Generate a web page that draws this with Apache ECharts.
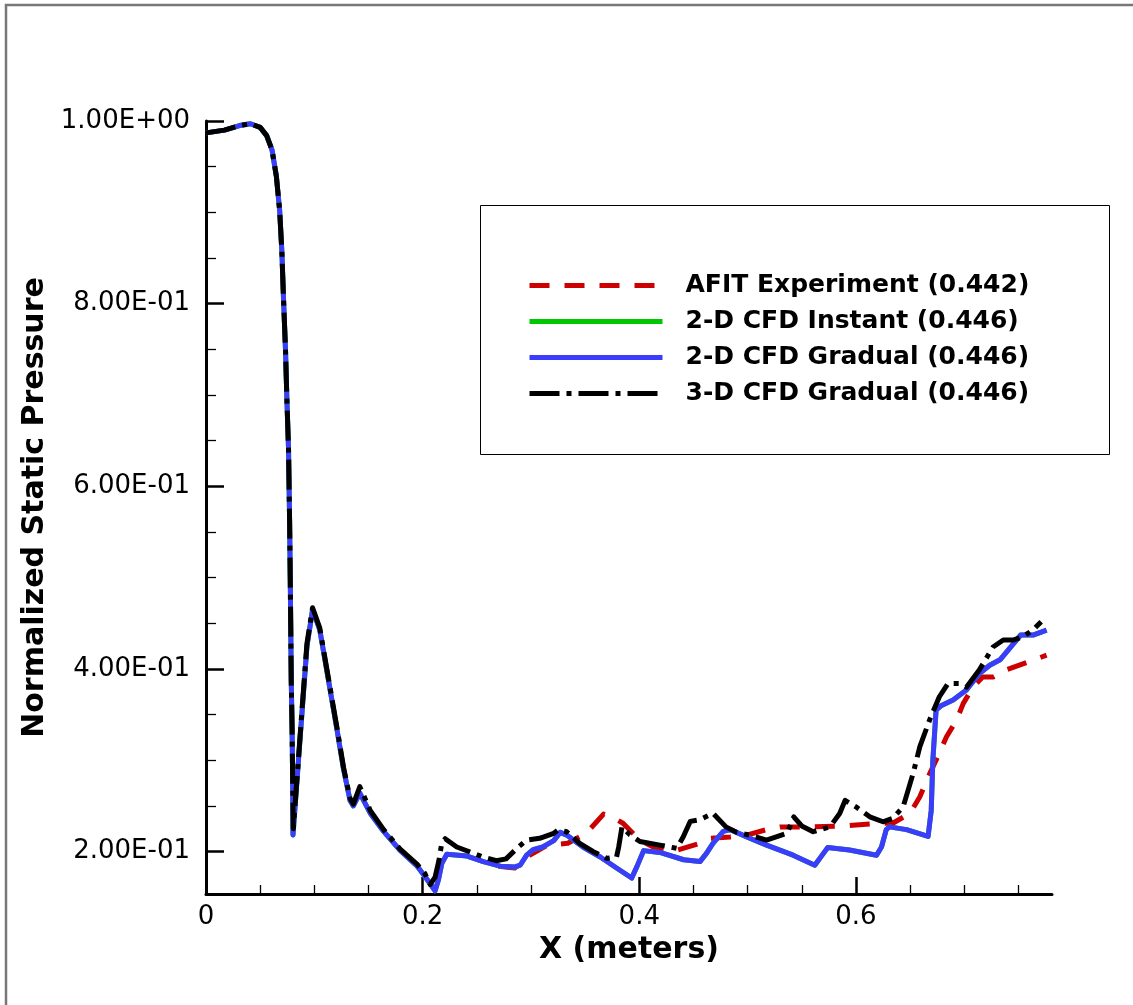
<!DOCTYPE html>
<html>
<head>
<meta charset="utf-8">
<script src="https://cdn.jsdelivr.net/npm/echarts@6/dist/echarts.min.js"></script>
<style>
html,body{margin:0;padding:0;background:#fff;}
#chart{width:1133px;height:1005px;}
</style>
</head>
<body>
<div id="chart"></div>
<script>
// ---- data ----
const seriesNames = ['AFIT Experiment (0.442)', '2-D CFD Instant (0.446)', '2-D CFD Gradual (0.446)', '3-D CFD Gradual (0.446)'];

const afitExperiment = [
  [0.270,0.184],[0.285,0.182],[0.299,0.196],[0.315,0.207],[0.334,0.209],[0.351,0.220],[0.367,0.241],
  [0.376,0.237],[0.385,0.231],[0.400,0.213],[0.416,0.203],[0.431,0.200],[0.445,0.205],[0.456,0.209],
  [0.465,0.2145],[0.484,0.216],[0.499,0.218],[0.5175,0.224],[0.530,0.227],[0.5575,0.227],[0.588,0.228],
  [0.600,0.229],[0.622,0.231],[0.634,0.231],[0.650,0.242],[0.659,0.260],[0.668,0.285],[0.674,0.300],
  [0.6836,0.3257],[0.693,0.344],[0.699,0.362],[0.708,0.380],[0.717,0.391],[0.7266,0.391],[0.739,0.399],
  [0.760,0.408],[0.776,0.415]
];

const cfd2dInstant = [
  [0,0.987],[0.017,0.990],[0.031,0.995],[0.041,0.997],[0.050,0.993],[0.056,0.984],[0.061,0.968],
  [0.065,0.939],[0.068,0.902],[0.070,0.858],[0.0716,0.804],[0.0734,0.749],[0.0747,0.694],[0.0762,0.640],
  [0.0772,0.560],[0.0778,0.497],[0.0782,0.450],[0.0787,0.387],[0.0795,0.333],[0.0800,0.278],[0.0803,0.218],
  [0.084,0.278],[0.0886,0.352],[0.0932,0.425],[0.0984,0.465],[0.105,0.443],[0.113,0.388],[0.121,0.333],
  [0.127,0.290],[0.133,0.256],[0.136,0.250],[0.142,0.264],[0.1516,0.242],[0.164,0.222],[0.179,0.2016],
  [0.195,0.184],[0.202,0.173],[0.2115,0.157],[0.2146,0.169],[0.2177,0.187],[0.2223,0.197],[0.224,0.199],
  [0.241,0.195],[0.256,0.189],[0.2715,0.184],[0.285,0.183],[0.290,0.185],[0.296,0.196],[0.302,0.202],
  [0.311,0.205],[0.321,0.212],[0.327,0.221],[0.333,0.218],[0.348,0.205],[0.364,0.194],[0.379,0.182],
  [0.393,0.171],[0.398,0.184],[0.404,0.201],[0.419,0.199],[0.441,0.191],[0.456,0.189],[0.462,0.198],
  [0.468,0.209],[0.4775,0.222],[0.484,0.224],[0.502,0.2145],[0.5175,0.207],[0.542,0.196],[0.562,0.185],
  [0.570,0.198],[0.574,0.2045],[0.594,0.2016],[0.619,0.196],[0.6236,0.205],[0.628,0.224],[0.631,0.227],
  [0.6467,0.224],[0.6666,0.2165],[0.6695,0.245],[0.671,0.300],[0.674,0.355],[0.679,0.360],[0.6897,0.366],
  [0.702,0.377],[0.714,0.395],[0.7235,0.404],[0.733,0.410],[0.743,0.424],[0.752,0.437],[0.7635,0.437],
  [0.776,0.4425]
];

const cfd2dGradual = [
  [0,0.987],[0.017,0.990],[0.031,0.995],[0.041,0.997],[0.050,0.993],[0.056,0.984],[0.061,0.968],
  [0.065,0.939],[0.068,0.902],[0.070,0.858],[0.0716,0.804],[0.0734,0.749],[0.0747,0.694],[0.0762,0.640],
  [0.0772,0.560],[0.0778,0.497],[0.0782,0.450],[0.0787,0.387],[0.0795,0.333],[0.0800,0.278],[0.0803,0.218],
  [0.084,0.278],[0.0886,0.352],[0.0932,0.425],[0.0984,0.465],[0.105,0.443],[0.113,0.388],[0.121,0.333],
  [0.127,0.290],[0.133,0.256],[0.136,0.250],[0.142,0.264],[0.1516,0.242],[0.164,0.222],[0.179,0.2016],
  [0.195,0.184],[0.202,0.173],[0.2115,0.157],[0.2146,0.169],[0.2177,0.187],[0.2223,0.197],[0.224,0.199],
  [0.241,0.195],[0.256,0.189],[0.2715,0.184],[0.285,0.183],[0.290,0.185],[0.296,0.196],[0.302,0.202],
  [0.311,0.205],[0.321,0.212],[0.327,0.221],[0.333,0.218],[0.348,0.205],[0.364,0.194],[0.379,0.182],
  [0.393,0.171],[0.398,0.184],[0.404,0.201],[0.419,0.199],[0.441,0.191],[0.456,0.189],[0.462,0.198],
  [0.468,0.209],[0.4775,0.222],[0.484,0.224],[0.502,0.2145],[0.5175,0.207],[0.542,0.196],[0.562,0.185],
  [0.570,0.198],[0.574,0.2045],[0.594,0.2016],[0.619,0.196],[0.6236,0.205],[0.628,0.224],[0.631,0.227],
  [0.6467,0.224],[0.6666,0.2165],[0.6695,0.245],[0.671,0.300],[0.674,0.355],[0.679,0.360],[0.6897,0.366],
  [0.702,0.377],[0.714,0.395],[0.7235,0.404],[0.733,0.410],[0.743,0.424],[0.752,0.437],[0.7635,0.437],
  [0.776,0.4425]
];

const cfd3dGradual = [
  [0,0.987],[0.017,0.990],[0.031,0.995],[0.041,0.997],[0.050,0.993],[0.056,0.984],[0.061,0.968],
  [0.065,0.939],[0.068,0.902],[0.070,0.858],[0.0716,0.804],[0.0734,0.749],[0.0747,0.694],[0.0762,0.640],
  [0.0772,0.560],[0.0778,0.497],[0.0782,0.450],[0.0787,0.387],[0.0795,0.333],[0.0800,0.278],[0.0806,0.225],
  [0.084,0.280],[0.0886,0.355],[0.0932,0.428],[0.0984,0.467],[0.105,0.445],[0.113,0.390],[0.121,0.335],
  [0.127,0.292],[0.133,0.258],[0.136,0.252],[0.142,0.271],[0.1516,0.245],[0.164,0.224],[0.179,0.203],
  [0.195,0.186],[0.202,0.176],[0.207,0.164],[0.2115,0.172],[0.215,0.190],[0.2176,0.209],[0.2208,0.214],
  [0.2315,0.205],[0.256,0.194],[0.268,0.190],[0.277,0.192],[0.287,0.2035],[0.296,0.2126],[0.308,0.2145],
  [0.321,0.220],[0.325,0.2235],[0.333,0.2216],[0.345,0.209],[0.3576,0.1998],[0.370,0.1926],[0.379,0.194],
  [0.381,0.205],[0.384,0.227],[0.3914,0.2183],[0.4006,0.211],[0.419,0.207],[0.4345,0.2035],[0.4406,0.2161],
  [0.447,0.233],[0.456,0.235],[0.468,0.2418],[0.480,0.227],[0.490,0.221],[0.502,0.218],[0.5175,0.2126],
  [0.5365,0.220],[0.5426,0.238],[0.550,0.228],[0.5605,0.2217],[0.576,0.227],[0.585,0.2416],[0.590,0.256],
  [0.600,0.249],[0.6128,0.238],[0.625,0.2326],[0.634,0.2363],[0.6436,0.249],[0.6528,0.2856],[0.659,0.3148],
  [0.668,0.344],[0.677,0.3695],[0.685,0.384],[0.696,0.384],[0.702,0.380],[0.714,0.399],[0.7266,0.424],
  [0.736,0.4316],[0.745,0.4316],[0.754,0.4353],[0.7635,0.4426],[0.771,0.4517]
];

const xMajorTicks = [0, 0.2, 0.4, 0.6];
const xTickLabels = ['0', '0.2', '0.4', '0.6'];
const xMinorTicks = [0.05,0.1,0.15,0.25,0.3,0.35,0.45,0.5,0.55,0.65,0.7,0.75];
const yMajorTicks = [0.2, 0.4, 0.6, 0.8, 1.0];
const yTickLabels = ['2.00E-01', '4.00E-01', '6.00E-01', '8.00E-01', '1.00E+00'];
const yMinorTicks = [0.25,0.3,0.35,0.45,0.5,0.55,0.65,0.7,0.75,0.85,0.9,0.95];

// ---- chart ----
const FONT = '"DejaVu Sans", Verdana, sans-serif';
const X_MIN = 0, X_MAX = 0.781, Y_MIN = 0.1535, Y_MAX = 1.0;
function lookup(vals, labels, v){
  for (let i = 0; i < vals.length; i++) if (Math.abs(vals[i] - v) < 1e-6) return labels[i];
  return '';
}
const colors = ['#cc0000', '#00c800', '#3c3cff', '#000000'];
const dashes = [[20, 15], 'solid', 'solid', [30, 7, 5, 7]];
const datas = [afitExperiment, cfd2dInstant, cfd2dGradual, cfd3dGradual];

const chart = echarts.init(document.getElementById('chart'), null, {renderer: 'canvas'});
const option = {
  animation: false,
  backgroundColor: '#ffffff',
  graphic: [
    {type: 'rect', z: -10, shape: {x: 6, y: 5, width: 1300, height: 1200},
     style: {fill: 'none', stroke: '#777777', lineWidth: 2.5}},
    {type: 'rect', z: -10, shape: {x: 480.5, y: 205.5, width: 629, height: 249},
     style: {fill: '#ffffff', stroke: '#000000', lineWidth: 1}}
  ],
  grid: {left: 206, right: 81, top: 121, bottom: 111},
  legend: {
    orient: 'vertical', left: 522, top: 268,
    itemWidth: 133, itemHeight: 14, itemGap: 11,
    data: seriesNames,
    itemStyle: {opacity: 0},
    lineStyle: {width: 5},
    textStyle: {fontFamily: FONT, fontSize: 25, fontWeight: 'bold', color: '#000', lineHeight: 25, padding: [0, 0, 0, 18]},
    selectedMode: false
  },
  xAxis: [
    {type: 'value', min: X_MIN, max: X_MAX, position: 'bottom',
     name: 'X (meters)', nameLocation: 'middle', nameGap: 40,
     nameTextStyle: {fontFamily: FONT, fontSize: 30, fontWeight: 'bold', color: '#000'},
     axisLine: {show: true, onZero: false, lineStyle: {color: '#000', width: 3}},
     axisTick: {show: true, inside: true, length: 17, customValues: xMajorTicks, lineStyle: {color: '#000', width: 2.5}},
     axisLabel: {customValues: xMajorTicks, formatter: v => lookup(xMajorTicks, xTickLabels, v),
                 fontFamily: FONT, fontSize: 26, color: '#000', margin: 10},
     splitLine: {show: false}},
    {type: 'value', min: X_MIN, max: X_MAX, position: 'bottom', offset: 0,
     axisLine: {show: false},
     axisTick: {show: true, inside: true, length: 9, customValues: xMinorTicks, lineStyle: {color: '#000', width: 1.3}},
     axisLabel: {show: false}, splitLine: {show: false}}
  ],
  yAxis: [
    {type: 'value', min: Y_MIN, max: Y_MAX, position: 'left',
     name: 'Normalized Static Pressure', nameLocation: 'middle', nameGap: 156, nameRotate: 90,
     nameTextStyle: {fontFamily: FONT, fontSize: 30, fontWeight: 'bold', color: '#000'},
     axisLine: {show: true, onZero: false, lineStyle: {color: '#000', width: 3}},
     axisTick: {show: true, inside: true, length: 18, customValues: yMajorTicks, lineStyle: {color: '#000', width: 2.5}},
     axisLabel: {customValues: yMajorTicks, formatter: v => lookup(yMajorTicks, yTickLabels, v),
                 fontFamily: FONT, fontSize: 26, color: '#000', margin: 16},
     splitLine: {show: false}},
    {type: 'value', min: Y_MIN, max: Y_MAX, position: 'left', offset: 0,
     axisLine: {show: false},
     axisTick: {show: true, inside: true, length: 10, customValues: yMinorTicks, lineStyle: {color: '#000', width: 1.3}},
     axisLabel: {show: false}, splitLine: {show: false}}
  ],
  series: seriesNames.map((name, i) => ({
    name: name, type: 'line', data: datas[i],
    xAxisIndex: 0, yAxisIndex: 0,
    symbol: 'none', showSymbol: false, smooth: false, z: 2 + i,
    color: colors[i],
    lineStyle: {color: colors[i], width: 5, type: dashes[i], cap: 'butt', join: 'round'}
  }))
};
chart.setOption(option);
</script>
</body>
</html>
